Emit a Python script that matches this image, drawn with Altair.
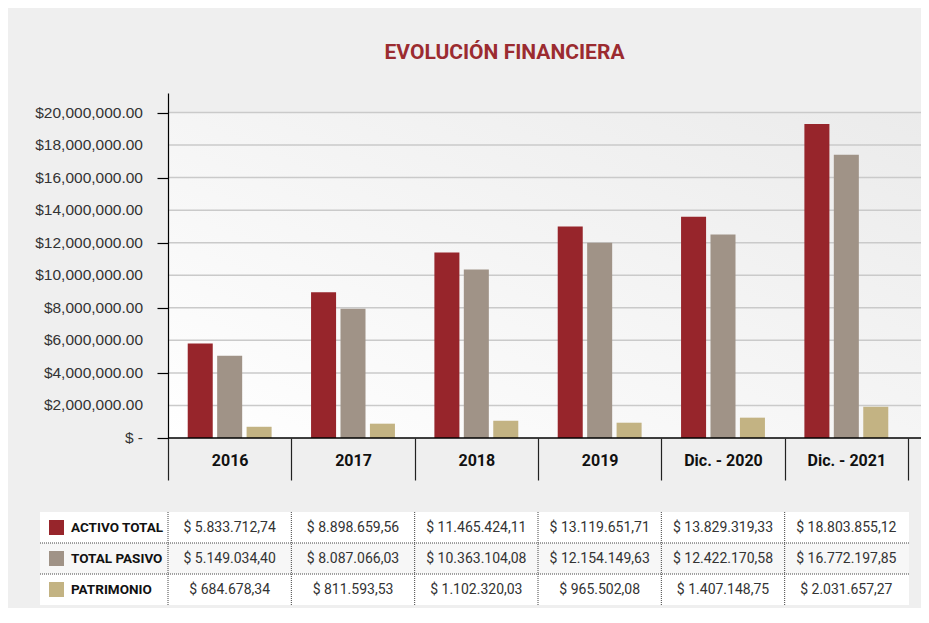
import altair as alt
import pandas as pd

# ---------------- data ----------------
categorias = ["2016", "2017", "2018", "2019", "Dic. - 2020", "Dic. - 2021"]
series = ["ACTIVO TOTAL", "TOTAL PASIVO", "PATRIMONIO"]
colores = ["#97252B", "#A09387", "#C3B383"]

# bar heights
activo = [5800000, 8950000, 11400000, 13000000, 13600000, 19300000]
pasivo = [5050000, 7950000, 10350000, 12000000, 12500000, 17400000]
patrimonio = [690000, 880000, 1060000, 940000, 1250000, 1920000]

# table texts
tabla_activo = ["$ 5.833.712,74", "$ 8.898.659,56", "$ 11.465.424,11",
                "$ 13.119.651,71", "$ 13.829.319,33", "$ 18.803.855,12"]
tabla_pasivo = ["$ 5.149.034,40", "$ 8.087.066,03", "$ 10.363.104,08",
                "$ 12.154.149,63", "$ 12.422.170,58", "$ 16.772.197,85"]
tabla_patrimonio = ["$ 684.678,34", "$ 811.593,53", "$ 1.102.320,03",
                    "$ 965.502,08", "$ 1.407.148,75", "$ 2.031.657,27"]

ticks_y = [0, 2000000, 4000000, 6000000, 8000000, 10000000,
           12000000, 14000000, 16000000, 18000000, 20000000]
y_max = 21200000

titulo = "EVOLUCIÓN FINANCIERA"

# ---------------- tables ----------------
rows = []
for s, vals, txts in zip(series, [activo, pasivo, patrimonio],
                         [tabla_activo, tabla_pasivo, tabla_patrimonio]):
    for c, v, t in zip(categorias, vals, txts):
        rows.append({"cat": c, "serie": s, "valor": v, "texto": t})
df = pd.DataFrame(rows)
df_series = pd.DataFrame({"serie": series})
df_cats = pd.DataFrame({"cat": categorias})
df_ticks = pd.DataFrame({"valor": ticks_y[1:]})
df_ticks_all = pd.DataFrame({"valor": ticks_y})
df_top = pd.DataFrame({"valor": [ticks_y[-1]]})

COND = "Roboto, Liberation Sans, sans-serif"
REG = "Liberation Sans, Arial, Helvetica, sans-serif"

W = 753
H = 345
XR = 740

xscale = alt.Scale(domain=categorias, range=[0, XR], paddingInner=0, paddingOuter=0)
yscale = alt.Scale(domain=[0, y_max], nice=False, zero=True)
cscale = alt.Scale(domain=series, range=colores)
row_scale = alt.Scale(type="band", domain=series, range=[419, 512],
                      paddingInner=0, paddingOuter=0)

xaxis = alt.Axis(title=None, orient="bottom", domain=False, grid=False,
                 tickBand="extent", tickSize=42, tickColor="#222", tickWidth=1.2,
                 labelFont=COND, labelFontSize=16, labelFontWeight="bold",
                 labelColor="#111", labelBaseline="middle", labelPadding=-20,
                 labelAngle=0, zindex=1)
yaxis = alt.Axis(title=None, orient="left", values=ticks_y, grid=False,
                 domainColor="#000", domainWidth=1.2, tickColor="#000",
                 tickSize=11, tickWidth=1.2, labels=False, zindex=1)

grad = alt.LinearGradient(
    gradient="linear",
    stops=[alt.GradientStop(offset=0, color="#ffffff"),
           alt.GradientStop(offset=1, color="#ebebeb")],
    x1=0, y1=1, x2=1, y2=0,
)

bg = alt.Chart(df_top).mark_rect(fill=grad).encode(
    x=alt.value(0), x2=alt.value(W),
    y=alt.Y("valor:Q", scale=yscale, title=None),
    y2=alt.datum(0),
)

grid = alt.Chart(df_ticks).mark_rule(color="#cacaca", strokeWidth=1.5).encode(
    x=alt.value(0), x2=alt.value(W),
    y=alt.Y("valor:Q", scale=yscale, title=None),
)

bars = alt.Chart(df).mark_bar().encode(
    x=alt.X("cat:N", sort=categorias, scale=xscale, axis=xaxis),
    xOffset=alt.XOffset("serie:N", sort=series,
                        scale=alt.Scale(domain=series, paddingInner=0.15, paddingOuter=0.67)),
    y=alt.Y("valor:Q", scale=yscale, axis=yaxis),
    color=alt.Color("serie:N", scale=cscale, legend=None),
)

base = alt.Chart(df_top).mark_rule(color="#000", strokeWidth=1.5).encode(
    x=alt.value(0), x2=alt.value(W),
    y=alt.datum(0),
)

ylabels = alt.Chart(df_ticks_all).transform_calculate(
    etiqueta="datum.valor == 0 ? '$ -' : '$' + format(datum.valor, ',.2f')"
).mark_text(align="right", baseline="middle", font=REG, fontSize=15.5,
            color="#333").encode(
    x=alt.value(-25),
    y=alt.Y("valor:Q", scale=yscale, title=None),
    text="etiqueta:N",
)

plot = alt.layer(bg, grid, bars, base, ylabels)

# ---------------- table ----------------
rowbg = alt.Chart(df_series).mark_rect().encode(
    x=alt.value(-128), x2=alt.value(741),
    y=alt.Y("serie:N", sort=series, scale=row_scale, axis=None),
    fill=alt.condition(alt.datum.serie == series[1], alt.value("#f7f7f7"), alt.value("#ffffff")),
)

hrules = alt.Chart(df_series).transform_filter(
    alt.datum.serie != series[0]
).mark_rule(color="#444", strokeWidth=1, strokeDash=[1, 1]).encode(
    x=alt.value(-128), x2=alt.value(741),
    y=alt.Y("serie:N", sort=series, scale=row_scale, axis=None, bandPosition=0),
)

vrules = alt.Chart(df_cats).mark_rule(color="#444", strokeWidth=1, strokeDash=[1, 1]).encode(
    x=alt.X("cat:N", sort=categorias, scale=xscale, axis=xaxis, bandPosition=0),
    y=alt.value(419), y2=alt.value(512),
)

squares = alt.Chart(df_series).mark_square(size=225, opacity=1).encode(
    x=alt.value(-111.5),
    y=alt.Y("serie:N", sort=series, scale=row_scale, axis=None),
    color=alt.Color("serie:N", scale=cscale, legend=None),
)

labels = alt.Chart(df_series).mark_text(
    align="left", baseline="middle", font=COND, fontSize=13.5,
    fontWeight="bold", color="#111",
).encode(
    x=alt.value(-97),
    y=alt.Y("serie:N", sort=series, scale=row_scale, axis=None),
    text="serie:N",
)

values = alt.Chart(df).mark_text(
    align="center", baseline="middle", font=COND, fontSize=14, color="#333",
).encode(
    x=alt.X("cat:N", sort=categorias, scale=xscale, axis=xaxis),
    y=alt.Y("serie:N", sort=series, scale=row_scale, axis=None),
    text="texto:N",
)

table = alt.layer(rowbg, hrules, vrules, squares, labels, values)

chart = alt.layer(plot, table).resolve_scale(y="independent").properties(
    width=W, height=H,
    autosize=alt.AutoSizeParams(type="none"),
    padding={"left": 160, "top": 85, "right": 0, "bottom": 170},
    background="#efefef",
    title=alt.TitleParams(titulo, font=COND, fontSize=21, fontWeight="bold",
                          color="#9B2B30", anchor="middle", frame="group",
                          dx=-40, offset=13, baseline="alphabetic"),
).configure_view(stroke=None)

chart.save("out.html", embed_options={"renderer": "svg", "actions": False})
